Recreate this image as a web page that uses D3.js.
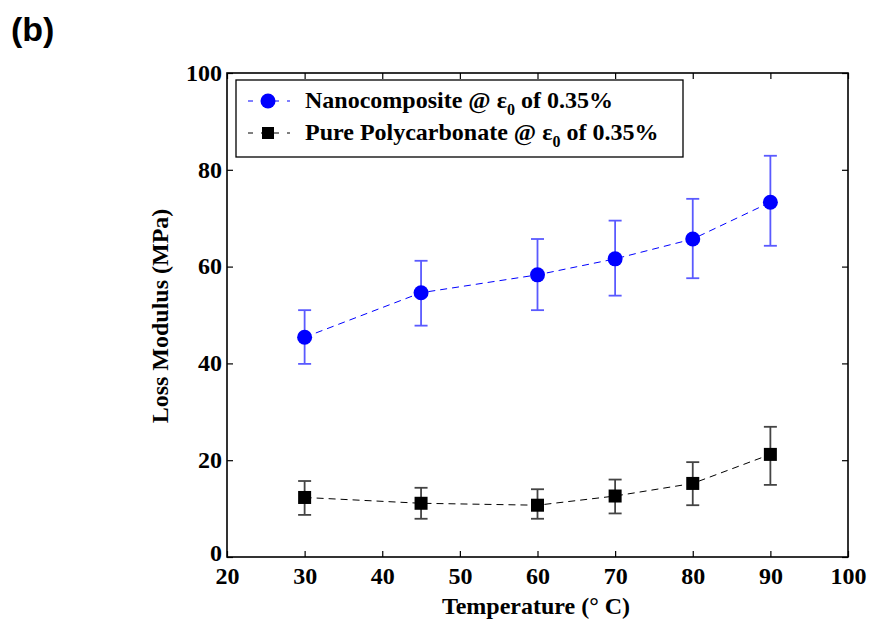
<!DOCTYPE html>
<html><head><meta charset="utf-8">
<script src="https://cdn.jsdelivr.net/npm/d3@7"></script>
<style>body{margin:0;background:#fff}svg{display:block}</style>
</head><body>
<svg id="c" width="869" height="619"></svg>
<script>
const temps = [30, 45, 60, 70, 80, 90];
const nanoMean = [45.4, 54.6, 58.3, 61.6, 65.7, 73.3];
const nanoLow  = [39.9, 47.8, 51.0, 54.0, 57.6, 64.3];
const nanoHigh = [51.0, 61.2, 65.7, 69.5, 74.0, 82.9];
const pcMean = [12.3, 11.1, 10.7, 12.6, 15.2, 21.2];
const pcLow  = [8.7, 7.9, 7.9, 9.0, 10.7, 14.9];
const pcHigh = [15.7, 14.3, 14.0, 16.0, 19.6, 26.9];
const xTicks = [20, 30, 40, 50, 60, 70, 80, 90, 100];
const yTicks = [0, 20, 40, 60, 80, 100];
const seriesNames = ["Nanocomposite @ ", "Pure Polycarbonate @ "];

const svg = d3.select("#c");
const L = 227, R = 848, T = 73, B = 557;
const x = d3.scaleLinear().domain([20, 100]).range([L, R]);
const y = d3.scaleLinear().domain([0, 100]).range([B, T]);
const serif = "'Liberation Serif','Times New Roman',serif";

svg.append("text").attr("x", 11).attr("y", 41).text("(b)")
  .attr("font-family", "'Liberation Sans',Arial,sans-serif").attr("font-weight", "bold").attr("font-size", 34);

const tickLen = 6;
const gB = svg.append("g").attr("transform", `translate(0,${B})`)
  .call(d3.axisBottom(x).tickValues(xTicks).tickSizeInner(-tickLen).tickSizeOuter(0).tickPadding(14));
const gT = svg.append("g").attr("transform", `translate(0,${T})`)
  .call(d3.axisTop(x).tickValues(xTicks).tickSizeInner(-tickLen).tickSizeOuter(0).tickFormat(""));
const gL = svg.append("g").attr("transform", `translate(${L},0)`)
  .call(d3.axisLeft(y).tickValues(yTicks).tickSizeInner(-tickLen).tickSizeOuter(0).tickPadding(5));
const gR = svg.append("g").attr("transform", `translate(${R},0)`)
  .call(d3.axisRight(y).tickValues(yTicks).tickSizeInner(-tickLen).tickSizeOuter(0).tickFormat(""));
[gB, gT, gL, gR].forEach(g => {
  g.select(".domain").remove();
  g.selectAll(".tick line").attr("stroke", "#000").attr("stroke-width", 1.2);
  g.selectAll("text").attr("font-family", serif).attr("font-weight", "bold")
    .attr("font-size", 24).attr("fill", "#000");
});
gB.selectAll("text").attr("dy", "0.55em");
gL.selectAll("text").attr("dy", d => d === 0 ? "0.15em" : "0.3em");
svg.append("rect").attr("x", L).attr("y", T).attr("width", R - L).attr("height", B - T)
  .attr("fill", "none").attr("stroke", "#000").attr("stroke-width", 1.6);

svg.append("text").attr("x", 536).attr("y", 614).attr("text-anchor", "middle")
  .attr("font-family", serif).attr("font-weight", "bold").attr("font-size", 24).text("Temperature (° C)");
svg.append("text").attr("transform", `translate(168,316) rotate(-90)`).attr("text-anchor", "middle")
  .attr("font-family", serif).attr("font-weight", "bold").attr("font-size", 24).text("Loss Modulus (MPa)");

const line = d3.line().x(d => x(d[0])).y(d => y(d[1])).curve(d3.curveLinear);

function drawSeries(mean, low, high, color, barColor, shape) {
  const g = svg.append("g");
  g.append("path").attr("d", line(temps.map((t, i) => [t, mean[i]])))
    .attr("fill", "none").attr("stroke", color).attr("stroke-width", 1).attr("stroke-dasharray", "7,5");
  const cap = 6.5;
  temps.forEach((t, i) => {
    const eb = g.append("g").attr("stroke", barColor).attr("stroke-width", 1.8);
    eb.append("line").attr("x1", x(t)).attr("x2", x(t)).attr("y1", y(low[i])).attr("y2", y(high[i]));
    eb.append("line").attr("x1", x(t) - cap).attr("x2", x(t) + cap).attr("y1", y(low[i])).attr("y2", y(low[i]));
    eb.append("line").attr("x1", x(t) - cap).attr("x2", x(t) + cap).attr("y1", y(high[i])).attr("y2", y(high[i]));
  });
  temps.forEach((t, i) => {
    if (shape === "circle") g.append("circle").attr("cx", x(t)).attr("cy", y(mean[i])).attr("r", 7.5).attr("fill", color);
    else g.append("rect").attr("x", x(t) - 6.5).attr("y", y(mean[i]) - 6.5).attr("width", 13).attr("height", 13).attr("fill", color);
  });
}
drawSeries(nanoMean, nanoLow, nanoHigh, "#0000ff", "#5a5aff", "circle");
drawSeries(pcMean, pcLow, pcHigh, "#000", "#444", "square");

const lg = svg.append("g");
lg.append("rect").attr("x", 236).attr("y", 80).attr("width", 447).attr("height", 77)
  .attr("fill", "#fff").attr("stroke", "#000").attr("stroke-width", 1.3);
const rows = [{name: seriesNames[0], color: "#0000ff", shape: "circle", cy: 101},
              {name: seriesNames[1], color: "#000", shape: "square", cy: 133}];
rows.forEach(r => {
  lg.append("line").attr("x1", 248).attr("x2", 290).attr("y1", r.cy).attr("y2", r.cy)
    .attr("stroke", r.color).attr("stroke-width", 1).attr("stroke-dasharray", "5,8");
  if (r.shape === "circle") lg.append("circle").attr("cx", 268).attr("cy", r.cy).attr("r", 7.5).attr("fill", r.color);
  else lg.append("rect").attr("x", 262).attr("y", r.cy - 6).attr("width", 12).attr("height", 12).attr("fill", r.color);
  const t = lg.append("text").attr("x", 305).attr("y", r.cy + 7).attr("font-family", serif)
    .attr("font-weight", "bold").attr("font-size", 24).attr("fill", "#000");
  t.append("tspan").text(r.name + "ε");
  t.append("tspan").attr("font-size", 16).attr("dy", 7).text("0");
  t.append("tspan").attr("dy", -7).text(" of 0.35%");
});
</script>
</body></html>
